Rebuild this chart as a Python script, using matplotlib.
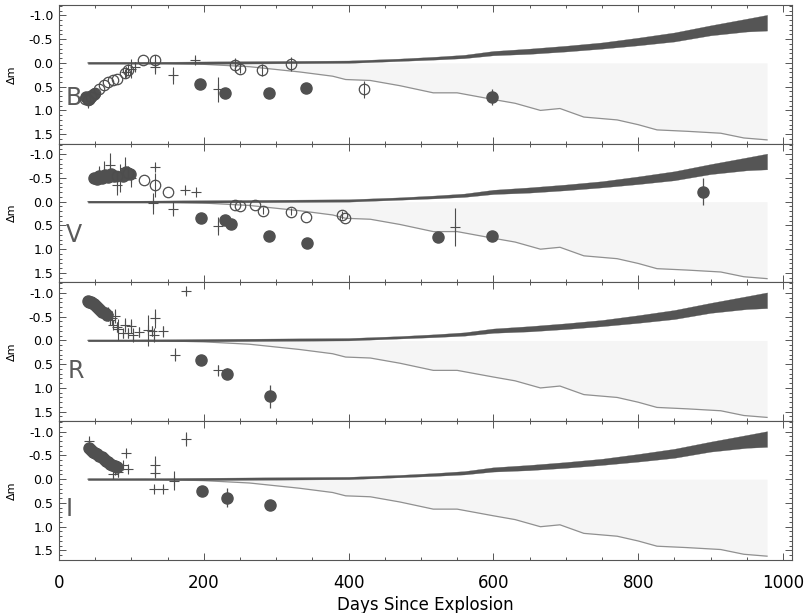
import numpy as np
import matplotlib
matplotlib.use('Agg')
import matplotlib.pyplot as plt
from matplotlib.ticker import MultipleLocator, FormatStrFormatter

# model: dark band (top/bottom edge) and the thin lower curve
model_days = [40, 100, 200, 300, 400, 470, 520, 560, 600, 650, 700, 750, 800, 850, 900, 950, 978]
band_top = [-0.02, -0.02, -0.03, -0.04, -0.05, -0.09, -0.13, -0.17, -0.25, -0.30, -0.36, -0.43, -0.53, -0.64, -0.79, -0.93, -1.01]
band_bot = [0.02, 0.02, 0.02, 0.01, 0.00, -0.04, -0.07, -0.10, -0.16, -0.19, -0.24, -0.30, -0.37, -0.45, -0.58, -0.66, -0.68]

line_days = [40, 120, 200, 263, 332, 378, 396, 430, 471, 517, 550, 600, 630, 665, 692, 725, 771, 800, 826, 868, 914, 946, 978]
line_mag = [0.0, 0.0, 0.03, 0.08, 0.19, 0.28, 0.35, 0.37, 0.48, 0.63, 0.63, 0.77, 0.85, 1.0, 0.96, 1.14, 1.2, 1.3, 1.41, 1.44, 1.48, 1.58, 1.62]

# B band
b_open_day = [36, 40, 45, 50, 56, 62, 68, 75, 80, 91, 96, 116, 133, 243, 250, 281, 321, 421]
b_open_mag = [0.75, 0.78, 0.72, 0.64, 0.55, 0.47, 0.40, 0.36, 0.34, 0.22, 0.14, -0.06, -0.07, 0.05, 0.12, 0.15, 0.03, 0.56]
b_open_err = [0, 0, 0, 0, 0, 0, 0, 0, 0, 0.1, 0.12, 0, 0.1, 0.15, 0.1, 0.12, 0.15, 0.18]
b_fill_day = [37, 41, 45, 49, 195, 230, 290, 341, 598]
b_fill_mag = [0.72, 0.75, 0.70, 0.65, 0.45, 0.63, 0.63, 0.52, 0.72]
b_fill_err = [0, 0, 0, 0, 0, 0, 0, 0, 0.17]
b_cross_day = [40, 93, 100, 105, 133, 158, 188, 220]
b_cross_mag = [0.85, 0.19, 0.12, 0.08, 0.08, 0.26, -0.07, 0.56]
b_cross_err = [0.08, 0.1, 0.2, 0.1, 0.15, 0.18, 0.05, 0.27]

# V band
v_open_day = [80, 96, 117, 133, 151, 243, 250, 271, 282, 321, 341, 391, 395]
v_open_mag = [-0.53, -0.60, -0.45, -0.35, -0.21, 0.08, 0.10, 0.08, 0.19, 0.21, 0.33, 0.28, 0.35]
v_open_err = [0.1, 0.15, 0, 0.25, 0, 0, 0, 0, 0.08, 0.08, 0, 0.08, 0]
v_fill_day = [48, 52, 56, 60, 64, 68, 72, 76, 88, 93, 98, 196, 229, 237, 290, 342, 524, 598, 890]
v_fill_mag = [-0.50, -0.47, -0.53, -0.50, -0.56, -0.52, -0.58, -0.55, -0.55, -0.62, -0.58, 0.34, 0.39, 0.47, 0.72, 0.88, 0.74, 0.72, -0.21]
v_fill_err = [0, 0, 0, 0, 0, 0, 0, 0, 0, 0, 0, 0, 0, 0, 0, 0, 0, 0, 0.28]
v_cross_day = [55, 62, 70, 80, 85, 91, 100, 130, 133, 158, 174, 190, 220, 547]
v_cross_mag = [-0.60, -0.65, -0.77, -0.35, -0.50, -0.70, -0.50, 0.03, -0.73, 0.16, -0.25, -0.21, 0.51, 0.54]
v_cross_err = [0.15, 0.2, 0.26, 0.2, 0.3, 0.25, 0.2, 0.22, 0.05, 0.15, 0.03, 0.03, 0.19, 0.4]

# R band
r_fill_day = [40, 42, 44, 46, 48, 51, 54, 57, 60, 63, 66, 196, 232, 291]
r_fill_mag = [-0.82, -0.81, -0.80, -0.78, -0.76, -0.72, -0.68, -0.64, -0.60, -0.57, -0.53, 0.42, 0.70, 1.18]
r_fill_err = [0, 0, 0, 0, 0, 0, 0, 0, 0, 0, 0, 0, 0.12, 0.25]
r_cross_day = [68, 70, 73, 75, 77, 80, 82, 88, 91, 96, 100, 103, 110, 123, 128, 131, 133, 144, 160, 176, 220]
r_cross_mag = [-0.55, -0.42, -0.47, -0.33, -0.51, -0.28, -0.23, -0.15, -0.33, -0.16, -0.30, -0.12, -0.18, -0.21, -0.20, -0.12, -0.47, -0.19, 0.30, -1.03, 0.63]
r_cross_err = [0.15, 0.1, 0.15, 0.1, 0.15, 0.1, 0.23, 0.1, 0.15, 0.1, 0.15, 0.15, 0.1, 0.33, 0.1, 0.15, 0.2, 0.12, 0.13, 0.05, 0.12]

# I band
i_fill_day = [41, 44, 47, 50, 53, 56, 59, 62, 65, 68, 71, 74, 77, 80, 197, 232, 292]
i_fill_mag = [-0.65, -0.62, -0.58, -0.55, -0.52, -0.49, -0.46, -0.42, -0.39, -0.36, -0.33, -0.30, -0.28, -0.25, 0.25, 0.39, 0.55]
i_fill_err = [0, 0, 0, 0, 0, 0, 0, 0, 0, 0, 0, 0, 0, 0, 0, 0.2, 0.1]
i_cross_day = [41, 75, 78, 82, 89, 93, 96, 131, 133, 133, 144, 159, 176]
i_cross_mag = [-0.81, -0.11, -0.20, -0.15, -0.29, -0.56, -0.22, 0.20, -0.29, -0.12, 0.20, 0.03, -0.84]
i_cross_err = [0.05, 0.1, 0.1, 0.1, 0.05, 0.05, 0.05, 0.05, 0.2, 0.08, 0.05, 0.2, 0.15]

band_names = ['B', 'V', 'R', 'I']
name_pos = [(9, 0.73), (9, 0.70), (12, 0.65), (9, 0.62)]

INK = '#4d4d4d'


def draw_model(ax):
    ax.fill_between(line_days, 0, line_mag, color='#f5f5f5', lw=0, zorder=1)
    ax.plot(line_days, line_mag, color='#909090', lw=0.9, zorder=2)
    ax.fill_between(model_days, band_top, band_bot, color='#555555', lw=0.2,
                    edgecolor='#555555', zorder=2)


def draw_points(ax, fill=None, opn=None, cross=None):
    if cross:
        d, m, e = cross
        ax.errorbar(d, m, yerr=e, fmt='+', ms=7.5, mew=0.8, color=INK,
                    elinewidth=0.8, capsize=0, zorder=3)
    if fill:
        d, m, e = fill
        ax.errorbar(d, m, yerr=e, fmt='o', ms=8, color='#505050', mec='#505050',
                    elinewidth=0.9, capsize=0, zorder=4)
    if opn:
        d, m, e = opn
        ax.errorbar(d, m, yerr=e, fmt='o', ms=7.5, mfc='none', mec=INK, mew=0.9,
                    color=INK, elinewidth=0.8, capsize=0, zorder=5)


fig, axes = plt.subplots(4, 1, sharex=True, figsize=(8.07, 6.13), dpi=100)
fig.subplots_adjust(left=0.073, right=0.981, top=0.992, bottom=0.0865, hspace=0)

sets = [
    dict(fill=(b_fill_day, b_fill_mag, b_fill_err), opn=(b_open_day, b_open_mag, b_open_err),
         cross=(b_cross_day, b_cross_mag, b_cross_err)),
    dict(fill=(v_fill_day, v_fill_mag, v_fill_err), opn=(v_open_day, v_open_mag, v_open_err),
         cross=(v_cross_day, v_cross_mag, v_cross_err)),
    dict(fill=(r_fill_day, r_fill_mag, r_fill_err), cross=(r_cross_day, r_cross_mag, r_cross_err)),
    dict(fill=(i_fill_day, i_fill_mag, i_fill_err), cross=(i_cross_day, i_cross_mag, i_cross_err)),
]

for ax, name, pos, s in zip(axes, band_names, name_pos, sets):
    draw_model(ax)
    draw_points(ax, **s)
    ax.text(pos[0], pos[1], name, fontsize=17, color='#5a5a5a', ha='left', va='center')

    ax.set_xlim(0, 1012)
    ax.set_ylim(1.70, -1.22)
    ax.yaxis.set_major_locator(MultipleLocator(0.5))
    ax.yaxis.set_minor_locator(MultipleLocator(0.1))
    ax.yaxis.set_major_formatter(FormatStrFormatter('%.1f'))
    ax.xaxis.set_major_locator(MultipleLocator(200))
    ax.xaxis.set_minor_locator(MultipleLocator(50))
    ax.tick_params(which='both', direction='in', top=True, right=True, color='#555555', width=0.7)
    ax.tick_params(which='major', length=5)
    ax.tick_params(which='minor', length=2.5)
    ax.tick_params(axis='y', labelsize=9, pad=4)
    ax.tick_params(axis='x', labelsize=12, pad=10)
    for sp in ax.spines.values():
        sp.set_color('#555555')
        sp.set_linewidth(0.8)
    ax.set_ylabel('Δm', fontsize=8)
    ax.yaxis.set_label_coords(-0.058, 0.5)

axes[-1].set_xlabel('Days Since Explosion', fontsize=12, labelpad=3)

fig.savefig('out.png', dpi=100)
